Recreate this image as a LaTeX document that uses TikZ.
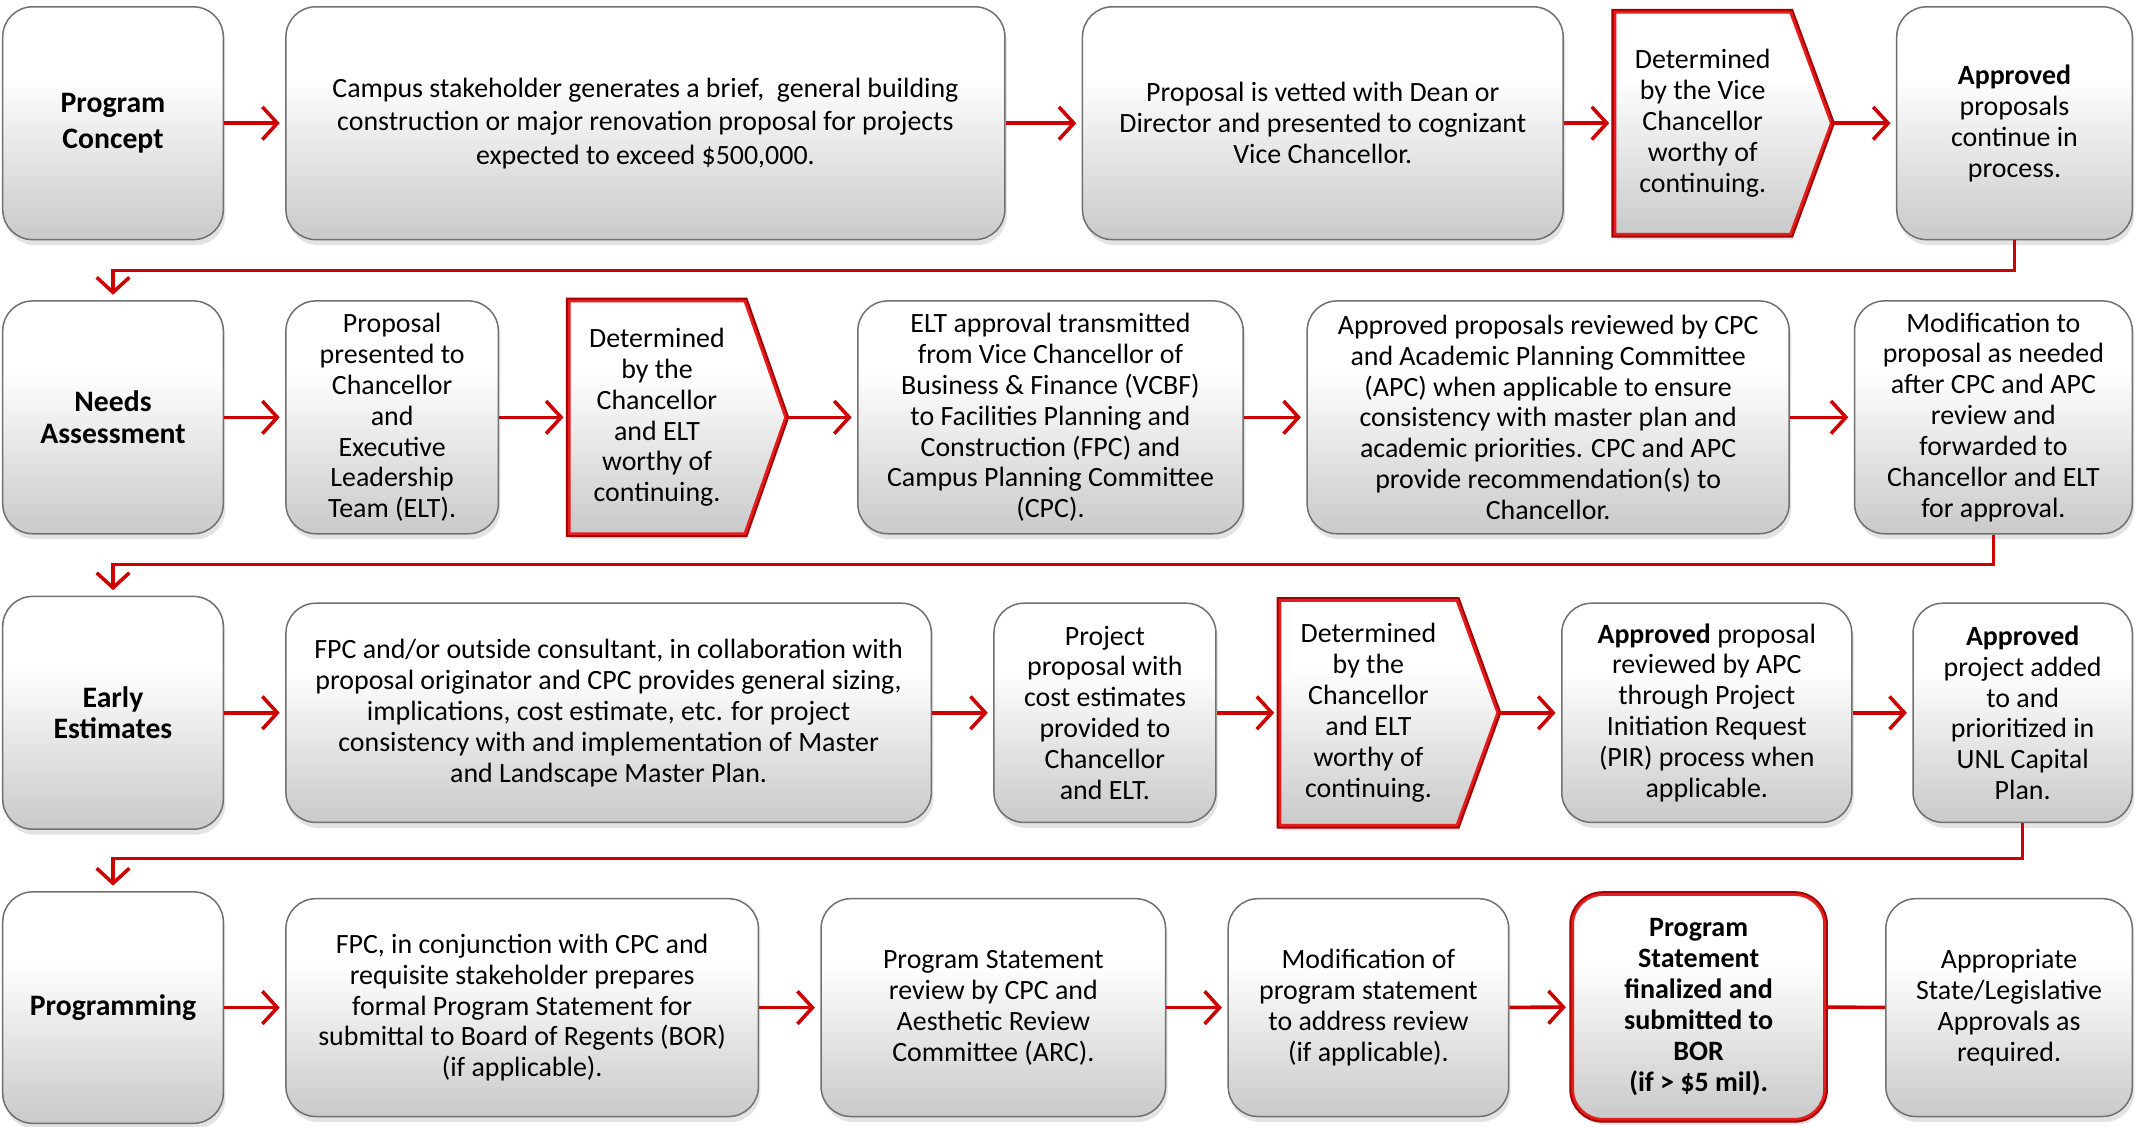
\documentclass[tikz,border=0pt]{standalone}
\usepackage{fontspec}
\setmainfont{Carlito}
\usetikzlibrary{arrows.meta,shadows,calc}
\definecolor{rd}{RGB}{204,0,0}
\definecolor{rddark}{RGB}{165,0,0}
\definecolor{rdlight}{RGB}{228,30,30}
\definecolor{bordergray}{RGB}{112,112,112}
\pgfdeclareverticalshading{boxshade}{100bp}{color(0bp)=(black!21); color(25bp)=(black!21); color(45bp)=(black!9); color(60bp)=(white); color(100bp)=(white)}
\newcommand{\myfs}{\fontsize{20.5pt}{22.7pt}\selectfont}
\newcommand{\myfsw}{\fontsize{20.5pt}{24.5pt}\selectfont}
\newcommand{\mybf}{\fontsize{21.8pt}{23.3pt}\selectfont\bfseries}
\newcommand{\mybfw}{\fontsize{21.8pt}{26pt}\selectfont\bfseries}
\newcommand{\myrbf}{\fontsize{20.6pt}{22.7pt}\selectfont\bfseries}
\tikzset{
  procbox/.style={drop shadow={opacity=0.22, shadow xshift=1.5pt, shadow yshift=-4pt},
    shade, shading=boxshade, draw=bordergray, line width=1.1pt, rounded corners=22pt,
    align=center, inner sep=0pt, font=\myfs, text=black},
  stagebox/.style={procbox, font=\mybf},
  redbox/.style={procbox, preaction={draw=rddark, line width=5pt}, draw=rdlight, line width=2pt},
  decshape/.style={drop shadow={opacity=0.22, shadow xshift=1.5pt, shadow yshift=-4pt},
    shade, shading=boxshade, preaction={draw=rddark, line width=5pt}, draw=rdlight, line width=2pt, line join=miter},
  dectext/.style={inner sep=0pt, align=center, font=\myfs, text=black},
  conn/.style={draw=rd, line width=2.6pt, -{Straight Barb[length=11pt,width=24pt]}, shorten >=4pt},
  plainline/.style={draw=rd, line width=2.6pt}
}
\newcommand{\decbox}[6]{%
  \path[decshape] (#2,#3) -- ({#4-30},#3) -- (#4,{(#3+#5)/2}) -- ({#4-30},#5) -- (#2,#5) -- cycle;
  \node[dectext, minimum width={(#4-30-#2)*1pt}, minimum height={(#5-#3)*1pt}] (#1) at ({(#2+#4-30)/2},{(#3+#5)/2}) {#6};
  \coordinate (#1tip) at (#4,{(#3+#5)/2});
}
\begin{document}
\begin{tikzpicture}[x=1pt,y=-1pt]
\path[fill=white] (0,0) rectangle (1568,827);
\useasboundingbox (0,0) rectangle (1568,827);
% Row 1
\node[stagebox, font=\mybfw, minimum width=162pt, minimum height=171pt] (pc) at (83,90.5) {Program\\Concept};
\node[procbox, font=\myfsw, minimum width=528pt, minimum height=171pt] (cb) at (474,90.5) {Campus stakeholder generates a brief,~ general building\\construction or major renovation proposal for projects\\expected to exceed \$500,000.};
\node[procbox, minimum width=353pt, minimum height=171pt] (pv) at (971.5,90.5) {Proposal is vetted with Dean or\\Director and presented to cognizant\\Vice Chancellor.};
\decbox{d1}{1186}{9}{1345}{172}{Determined\\by the Vice\\Chancellor\\worthy of\\continuing.}
\node[procbox, minimum width=173pt, minimum height=171pt] (ap1) at (1479.5,90.5) {\textbf{Approved}\\proposals\\continue in\\process.};
% Row 2
\node[stagebox, minimum width=162pt, minimum height=171pt] (na) at (83,306.5) {Needs\\Assessment};
\node[procbox, minimum width=156pt, minimum height=171pt] (pp) at (288,306.5) {Proposal\\presented to\\Chancellor\\and\\Executive\\Leadership\\Team (ELT).};
\decbox{d2}{418}{221}{577}{392}{Determined\\by the\\Chancellor\\and ELT\\worthy of\\continuing.}
\node[procbox, minimum width=283pt, minimum height=171pt] (elt) at (771.5,306.5) {ELT approval transmitted\\from Vice Chancellor of\\Business \& Finance (VCBF)\\to Facilities Planning and\\Construction (FPC) and\\Campus Planning Committee\\(CPC).};
\node[procbox, minimum width=354pt, minimum height=171pt] (apr) at (1137,306.5) {Approved proposals reviewed by CPC\\and Academic Planning Committee\\(APC) when applicable to ensure\\consistency with master plan and\\academic priorities. CPC and APC\\provide recommendation(s) to\\Chancellor.};
\node[procbox, minimum width=204pt, minimum height=171pt] (mod) at (1464,306.5) {Modification to\\proposal as needed\\after CPC and APC\\review and\\forwarded to\\Chancellor and ELT\\for approval.};
% Row 3
\node[stagebox, minimum width=162pt, minimum height=171pt] (ee) at (83,523.5) {Early\\Estimates};
\node[procbox, minimum width=474pt, minimum height=161pt] (fpc) at (447,523.5) {FPC and/or outside consultant, in collaboration with\\proposal originator and CPC provides general sizing,\\implications, cost estimate, etc. for project\\consistency with and implementation of Master\\and Landscape Master Plan.};
\node[procbox, minimum width=163pt, minimum height=161pt] (ppc) at (811.5,523.5) {Project\\proposal with\\cost estimates\\provided to\\Chancellor\\and ELT.};
\decbox{d3}{940}{441}{1100}{606}{Determined\\by the\\Chancellor\\and ELT\\worthy of\\continuing.}
\node[procbox, minimum width=213pt, minimum height=161pt] (apir) at (1253.5,523.5) {\textbf{Approved} proposal\\reviewed by APC\\through Project\\Initiation Request\\(PIR) process when\\applicable.};
\node[procbox, minimum width=161pt, minimum height=161pt] (apa) at (1485.5,523.5) {\textbf{Approved}\\project added\\to and\\prioritized in\\UNL Capital\\Plan.};
% Row 4
\node[stagebox, minimum width=162pt, minimum height=170pt] (prg) at (83,740) {Programming};
\node[procbox, minimum width=347pt, minimum height=160pt] (fpcj) at (383.5,740) {FPC, in conjunction with CPC and\\requisite stakeholder prepares\\formal Program Statement for\\submittal to Board of Regents (BOR)\\(if applicable).};
\node[procbox, minimum width=253pt, minimum height=160pt] (psr) at (729.5,740) {Program Statement\\review by CPC and\\Aesthetic Review\\Committee (ARC).};
\node[procbox, minimum width=206pt, minimum height=160pt] (mop) at (1005,740) {Modification of\\program statement\\to address review\\(if applicable).};
\node[redbox, minimum width=185pt, minimum height=165pt, font=\myrbf] (psf) at (1247.5,739.5) {Program\\Statement\\finalized and\\submitted to\\BOR\\(if > \$5 mil).};
\node[procbox, minimum width=181pt, minimum height=160pt] (asl) at (1475.5,740) {Appropriate\\State/Legislative\\Approvals as\\required.};
% Connectors row 1
\draw[conn] (pc) -- (cb);
\draw[conn] (cb) -- (pv);
\draw[conn] (pv) -- (d1);
\draw[conn] (d1tip) -- (ap1);
\draw[conn] (ap1.south) -- ++(0,22) -| (na.north);
% Row 2
\draw[conn] (na) -- (pp);
\draw[conn] (pp) -- (d2);
\draw[conn] (d2tip) -- (elt);
\draw[conn] (elt) -- (apr);
\draw[conn] (apr) -- (mod);
\draw[conn] (mod.south) -- ++(0,22) -| (ee.north);
% Row 3
\draw[conn] (ee) -- (fpc);
\draw[conn] (fpc) -- (ppc);
\draw[conn] (ppc) -- (d3);
\draw[conn] (d3tip) -- (apir);
\draw[conn] (apir) -- (apa);
\draw[conn] (apa.south) -- ++(0,26) -| (prg.north);
% Row 4
\draw[conn] (prg) -- (fpcj);
\draw[conn] (fpcj) -- (psr);
\draw[conn] (psr) -- (mop);
\draw[conn] (mop) -- (psf);
\draw[plainline] (psf) -- (asl);
\end{tikzpicture}
\end{document}
